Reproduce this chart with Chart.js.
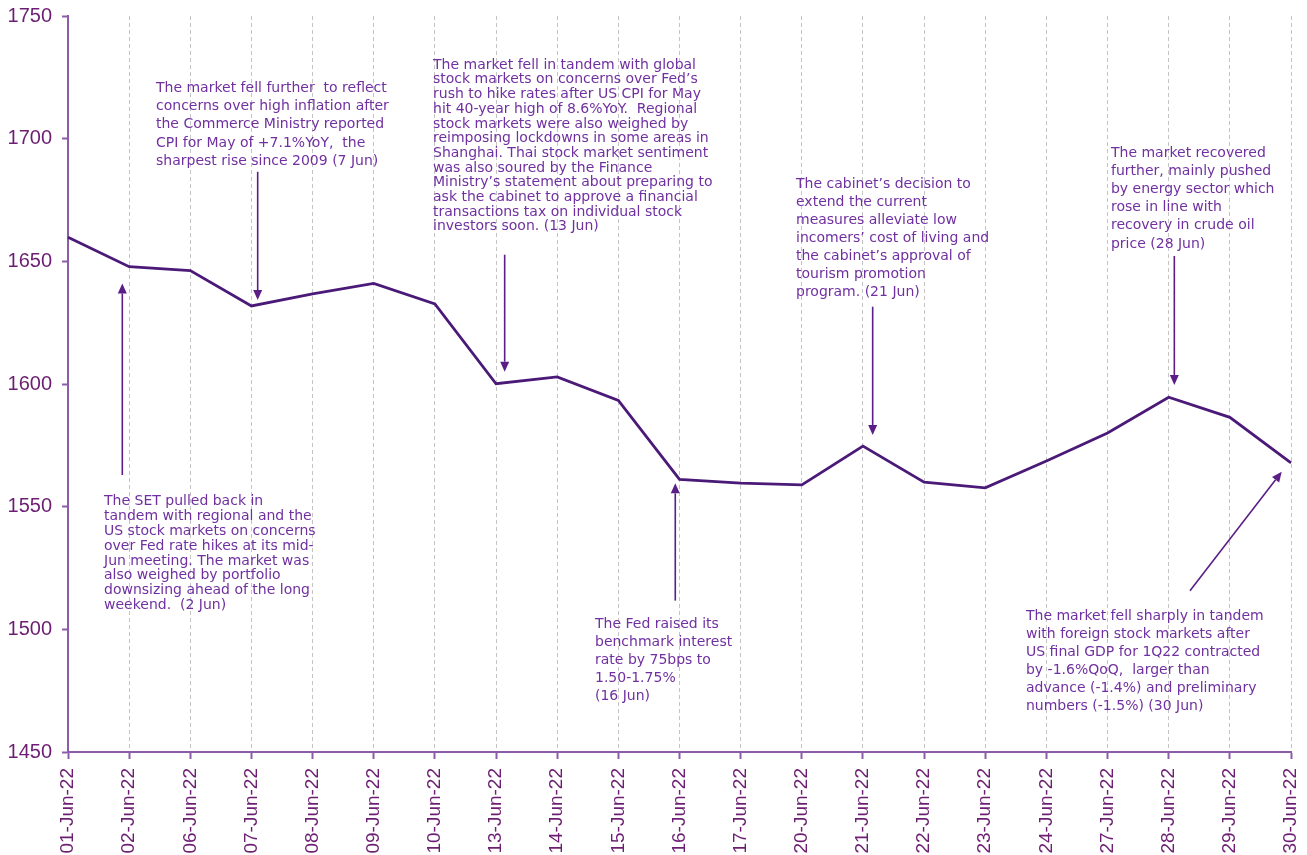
<!DOCTYPE html>
<html>
<head>
<meta charset="utf-8">
<title>SET index, June 2022</title>
<script src="https://cdn.jsdelivr.net/npm/chart.js@4/dist/chart.umd.min.js"></script>
<style>
  html, body { margin: 0; padding: 0; background: #fff; }
  #wrap { width: 1307px; height: 855px; }
</style>
</head>
<body>
<div id="wrap"><canvas id="setChart" width="1307" height="855"></canvas></div>
<script>
// Trading days (x axis)
const days = [
  "01-Jun-22", "02-Jun-22", "06-Jun-22", "07-Jun-22", "08-Jun-22", "09-Jun-22", "10-Jun-22",
  "13-Jun-22", "14-Jun-22", "15-Jun-22", "16-Jun-22", "17-Jun-22", "20-Jun-22", "21-Jun-22",
  "22-Jun-22", "23-Jun-22", "24-Jun-22", "27-Jun-22", "28-Jun-22", "29-Jun-22", "30-Jun-22"
];

// SET index close
const setIndex = [
  1659.8, 1647.8, 1646.2, 1631.8, 1636.7, 1641.0, 1632.6,
  1600.1, 1602.9, 1593.3, 1561.1, 1559.6, 1558.9, 1574.7,
  1560.0, 1557.7, 1568.6, 1580.0, 1594.6, 1586.4, 1567.9
];

// y axis
const yMin = 1450;
const yMax = 1750;
const yStep = 50;

// Comments: x = day index, y = index level of the first text line
const notes = [
  { x: 0.589, y: 1552.0, lh: 14.8, lines: [
    "The SET pulled back in",
    "tandem with regional and the",
    "US stock markets on concerns",
    "over Fed rate hikes at its mid-",
    "Jun meeting. The market was",
    "also weighed by portfolio",
    "downsizing ahead of the long",
    "weekend.  (2 Jun)"
  ]},
  { x: 1.439, y: 1720.7, lh: 18.35, lines: [
    "The market fell further  to reflect",
    "concerns over high inflation after",
    "the Commerce Ministry reported",
    "CPI for May of +7.1%YoY,  the",
    "sharpest rise since 2009 (7 Jun)"
  ]},
  { x: 5.969, y: 1730.0, lh: 14.7, lines: [
    "The market fell in tandem with global",
    "stock markets on concerns over Fed\u2019s",
    "rush to hike rates after US CPI for May",
    "hit 40-year high of 8.6%YoY.  Regional",
    "stock markets were also weighed by",
    "reimposing lockdowns in some areas in",
    "Shanghai. Thai stock market sentiment",
    "was also soured by the Finance",
    "Ministry\u2019s statement about preparing to",
    "ask the cabinet to approve a financial",
    "transactions tax on individual stock",
    "investors soon. (13 Jun)"
  ]},
  { x: 8.618, y: 1502.2, lh: 18.2, lines: [
    "The Fed raised its",
    "benchmark interest",
    "rate by 75bps to",
    "1.50-1.75%",
    "(16 Jun)"
  ]},
  { x: 11.905, y: 1681.4, lh: 17.95, lines: [
    "The cabinet\u2019s decision to",
    "extend the current",
    "measures alleviate low",
    "incomers\u2019 cost of living and",
    "the cabinet\u2019s approval of",
    "tourism promotion",
    "program. (21 Jun)"
  ]},
  { x: 17.056, y: 1694.0, lh: 18.1, lines: [
    "The market recovered",
    "further, mainly pushed",
    "by energy sector which",
    "rose in line with",
    "recovery in crude oil",
    "price (28 Jun)"
  ]},
  { x: 15.666, y: 1505.4, lh: 18, lines: [
    "The market fell sharply in tandem",
    "with foreign stock markets after",
    "US final GDP for 1Q22 contracted",
    "by -1.6%QoQ,  larger than",
    "advance (-1.4%) and preliminary",
    "numbers (-1.5%) (30 Jun)"
  ]}
];

// Arrows: from (x1, y1) to the head at (x2, y2), day index / index level
const arrows = [
  { x1: 0.888, y1: 1562.9, x2: 0.888, y2: 1641.0 },
  { x1: 3.102, y1: 1686.5, x2: 3.102, y2: 1634.2 },
  { x1: 7.141, y1: 1652.7, x2: 7.141, y2: 1605.0 },
  { x1: 9.931, y1: 1511.7, x2: 9.931, y2: 1559.5 },
  { x1: 13.159, y1: 1631.5, x2: 13.159, y2: 1579.2 },
  { x1: 18.092, y1: 1652.2, x2: 18.092, y2: 1599.6 },
  { x1: 18.348, y1: 1515.7, x2: 19.848, y2: 1564.2 }
];

const PURPLE_LINE = "#4b1a78";
const PURPLE_AXIS = "#8c5ca8";
const PURPLE_TICK = "#6c1f72";
const PURPLE_NOTE = "#7030a0";
const PURPLE_ARROW = "#5a1e86";

// Draws the comment texts and the arrows, placed through the chart scales
const notesPlugin = {
  id: "notes",
  afterDatasetsDraw(chart) {
    const { ctx, scales: { x, y } } = chart;
    ctx.save();

    ctx.font = "14px 'DejaVu Sans', sans-serif";
    ctx.fillStyle = PURPLE_NOTE;
    ctx.textAlign = "left";
    ctx.textBaseline = "middle";
    notes.forEach(n => {
      const px = x.getPixelForValue(n.x);
      const py = y.getPixelForValue(n.y);
      n.lines.forEach((t, i) => ctx.fillText(t, px, py + i * n.lh));
    });

    ctx.strokeStyle = PURPLE_ARROW;
    ctx.fillStyle = PURPLE_ARROW;
    ctx.lineWidth = 1.6;
    arrows.forEach(a => {
      const x1 = x.getPixelForValue(a.x1), y1 = y.getPixelForValue(a.y1);
      const x2 = x.getPixelForValue(a.x2), y2 = y.getPixelForValue(a.y2);
      const ang = Math.atan2(y2 - y1, x2 - x1);
      const headLen = 10, headW = 4.5;
      const bx = x2 - headLen * Math.cos(ang), by = y2 - headLen * Math.sin(ang);
      ctx.beginPath();
      ctx.moveTo(x1, y1);
      ctx.lineTo(bx, by);
      ctx.stroke();
      ctx.beginPath();
      ctx.moveTo(x2, y2);
      ctx.lineTo(bx + headW * Math.sin(ang), by - headW * Math.cos(ang));
      ctx.lineTo(bx - headW * Math.sin(ang), by + headW * Math.cos(ang));
      ctx.closePath();
      ctx.fill();
    });

    ctx.restore();
  }
};

const ctx = document.getElementById("setChart").getContext("2d");
new Chart(ctx, {
  type: "line",
  data: {
    labels: days,
    datasets: [{
      label: "SET",
      data: setIndex,
      borderColor: PURPLE_LINE,
      borderWidth: 2.8,
      pointRadius: 0,
      tension: 0,
      fill: false
    }]
  },
  options: {
    responsive: false,
    animation: false,
    devicePixelRatio: 1,
    layout: { padding: { top: 16, right: 16, bottom: 0, left: 0 } },
    plugins: {
      legend: { display: false },
      tooltip: { enabled: false }
    },
    scales: {
      x: {
        offset: false,
        grid: {
          color: "#c4c4c4",
          lineWidth: 1,
          drawTicks: true,
          tickLength: 7,
          tickColor: PURPLE_AXIS,
          tickWidth: 2
        },
        border: { color: PURPLE_AXIS, width: 2, dash: [4, 3] },
        ticks: {
          color: PURPLE_TICK,
          font: { family: "'Liberation Sans', Arial, sans-serif", size: 19 },
          minRotation: 90,
          maxRotation: 90,
          autoSkip: false,
          padding: 9
        },
        afterFit(scale) {
          scale.height = 103;
          scale.paddingLeft = 0;
          scale.paddingRight = 0;
        }
      },
      y: {
        min: yMin,
        max: yMax,
        grid: {
          drawOnChartArea: false,
          drawTicks: true,
          tickLength: 6,
          tickColor: PURPLE_AXIS,
          tickWidth: 2
        },
        border: { color: PURPLE_AXIS, width: 2 },
        ticks: {
          stepSize: yStep,
          color: PURPLE_TICK,
          font: { family: "'Liberation Sans', Arial, sans-serif", size: 20 },
          padding: 10,
          callback: v => String(v)
        },
        afterFit(scale) {
          scale.width = 68;
          scale.paddingTop = 0;
          scale.paddingBottom = 0;
        }
      }
    }
  },
  plugins: [notesPlugin]
});
</script>
</body>
</html>
